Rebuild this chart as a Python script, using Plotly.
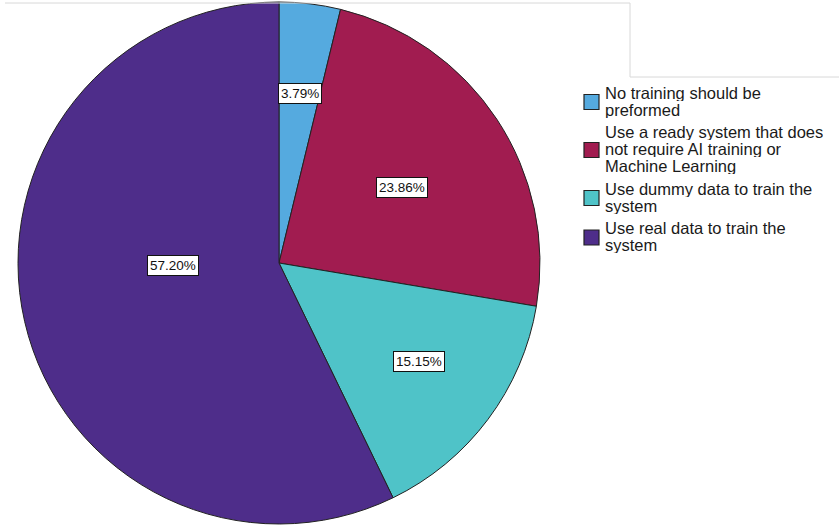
import math
import textwrap
import plotly.graph_objects as go

# ---- data -------------------------------------------------------------
categories = [
    "No training should be preformed",
    "Use a ready system that does not require AI training or Machine Learning",
    "Use dummy data to train the system",
    "Use real data to train the system",
]
percentages = [3.79, 23.86, 15.15, 57.20]
colors = ["#55AADF", "#A11C50", "#4FC3C8", "#4E2D8A"]

# ---- geometry (pixels) -----------------------------------------------
W, H = 839, 525
CX, CY, R = 279, 263, 261

# value-label placement: radial fraction and small angular nudge (deg)
label_r = [0.656, 0.552, 0.656, 0.406]
label_shift = [0.2, 2.0, -1.7, 11.4]

FONT = "Liberation Sans, Arial, sans-serif"

fig = go.Figure()
fig.add_trace(go.Pie(
    labels=categories,
    values=percentages,
    sort=False,
    direction="clockwise",
    rotation=0,
    marker=dict(colors=colors, line=dict(color="#222222", width=1)),
    textinfo="none",
    hoverinfo="label+percent",
    showlegend=False,
    domain=dict(x=[(CX - R) / W, (CX + R) / W],
                y=[1 - (CY + R) / H, 1 - (CY - R) / H]),
))

annotations = []
total = sum(percentages)
cum = 0.0
for v, f, s in zip(percentages, label_r, label_shift):
    mid = (cum + v / 2) / total * 360 + s
    cum += v
    px = CX + f * R * math.sin(math.radians(mid))
    py = CY - f * R * math.cos(math.radians(mid))
    annotations.append(dict(
        x=px / W, y=1 - py / H, xref="paper", yref="paper",
        text=f"{v:.2f}%", showarrow=False,
        font=dict(family=FONT, size=13.5, color="#111111"),
        bgcolor="white", bordercolor="#111111", borderwidth=1, borderpad=2,
        xanchor="center", yanchor="middle",
    ))

# ---- legend: swatch + wrapped lines -----------------------------------
shapes = []
LEG_X_SWATCH = 584
LEG_X_TEXT = 603
SW = 15
line_y = 92.5
LINE_PITCH = 17.0
ITEM_GAP = 5.5
for name, col in zip(categories, colors):
    lines = textwrap.wrap(name, 28)
    first = line_y
    for ln in lines:
        annotations.append(dict(
            x=LEG_X_TEXT / W, y=1 - line_y / H, xref="paper", yref="paper",
            text=ln, showarrow=False, xanchor="left", yanchor="middle",
            height=16, valign="middle",
            font=dict(family=FONT, size=16.5, color="#1a1a1a"),
        ))
        line_y += LINE_PITCH
    last = line_y - LINE_PITCH
    mid_y = (first + last) / 2 + 1
    shapes.append(dict(
        type="rect", xref="paper", yref="paper",
        x0=LEG_X_SWATCH / W, x1=(LEG_X_SWATCH + SW) / W,
        y0=1 - (mid_y - SW / 2) / H, y1=1 - (mid_y + SW / 2) / H,
        fillcolor=col, line=dict(color="#222222", width=1.2),
    ))
    line_y += ITEM_GAP

# thin frame lines along the top
shapes.append(dict(
    type="path", xref="paper", yref="paper",
    path=f"M {5 / W},{1 - 3 / H} L {630 / W},{1 - 3 / H} "
         f"L {630 / W},{1 - 77 / H} L 1,{1 - 77 / H}",
    line=dict(color="#d8d8d8", width=1),
))

fig.update_layout(
    width=W, height=H,
    margin=dict(l=0, r=0, t=0, b=0),
    paper_bgcolor="white", plot_bgcolor="white",
    annotations=annotations, shapes=shapes,
    showlegend=False,
)

fig.write_html("out.html")
